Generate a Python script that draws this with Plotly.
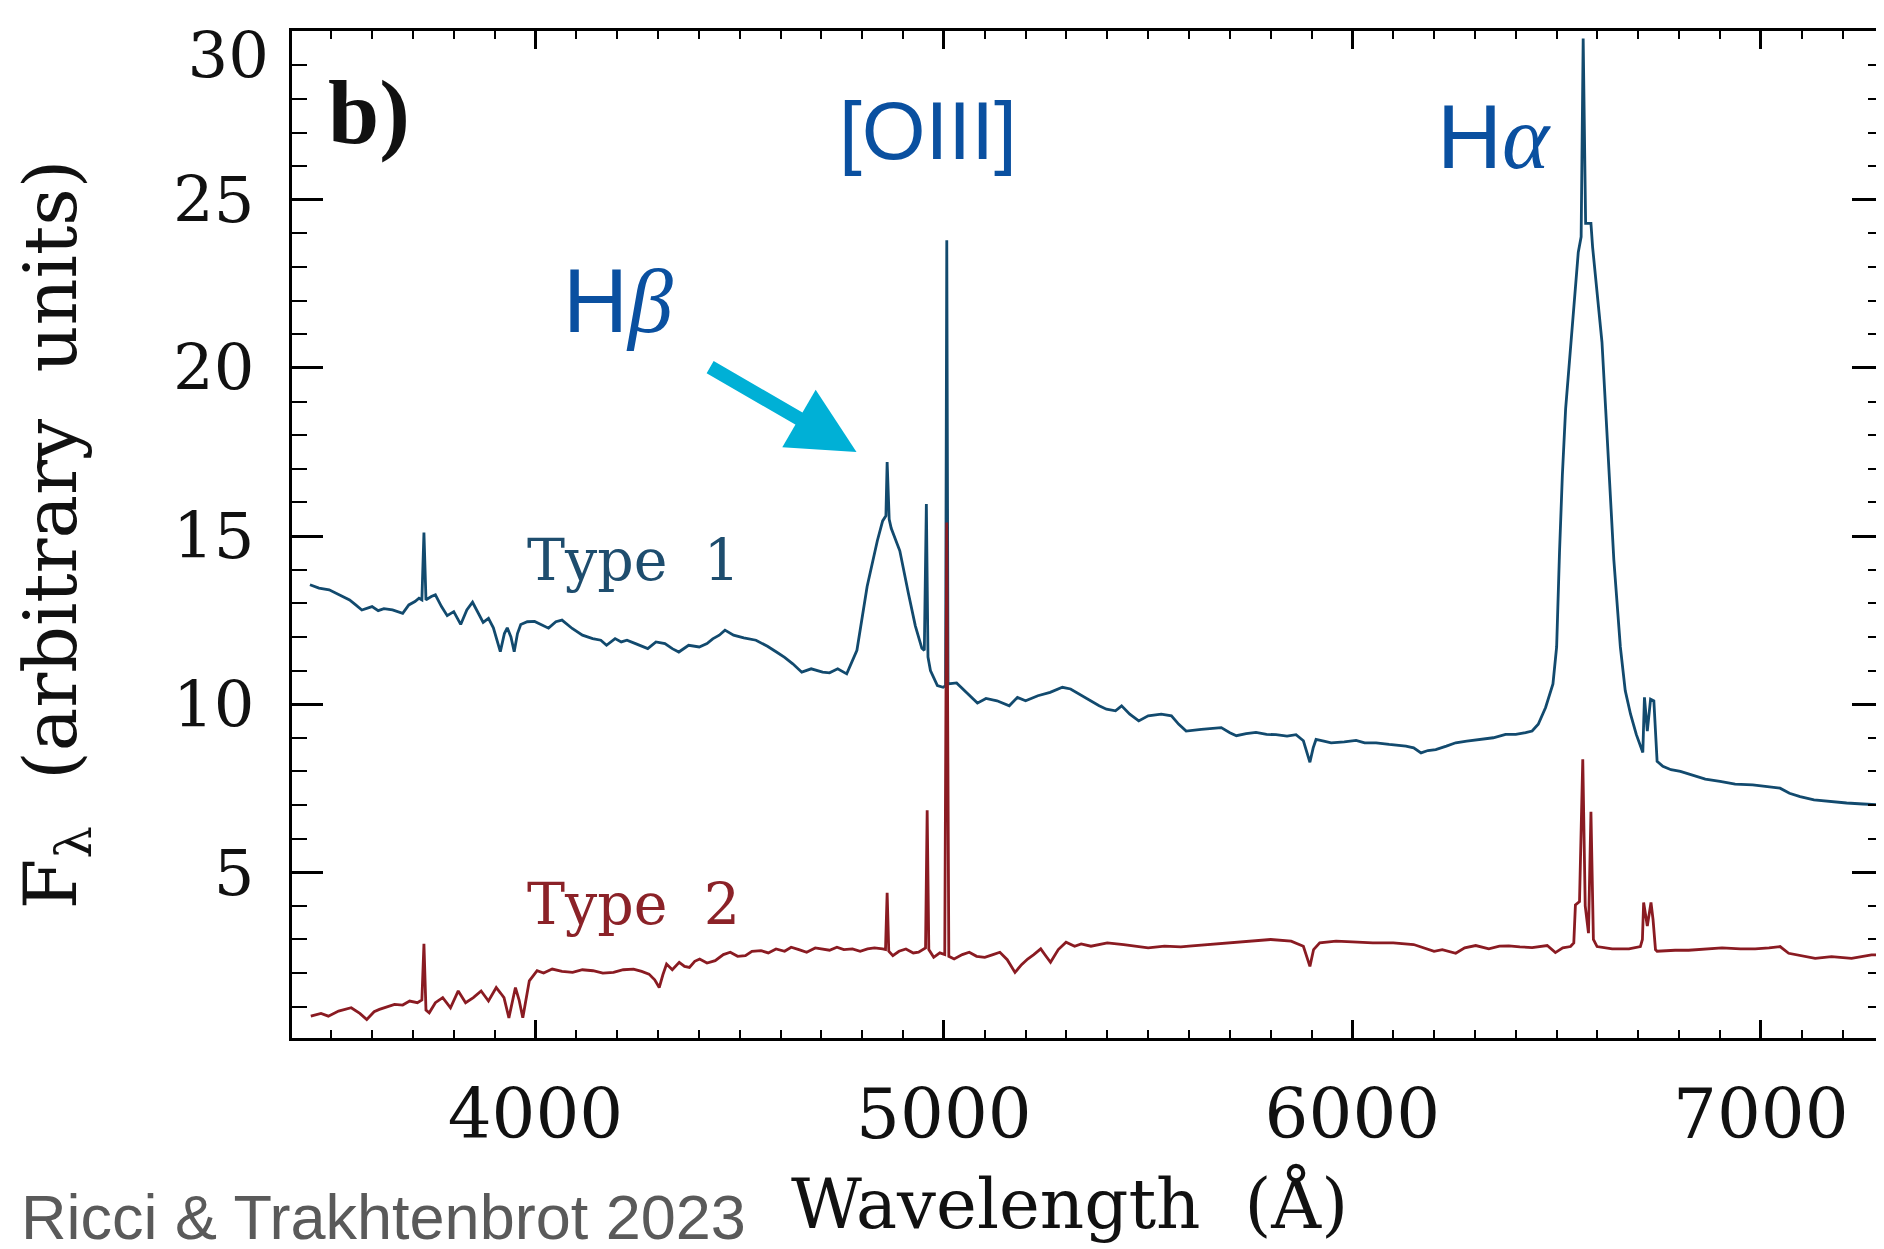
import plotly.graph_objects as go

# ---------------- data ----------------
type1_wave = [3448, 3470, 3495, 3520, 3545, 3560, 3575, 3600, 3615, 3629, 3650, 3675, 3690, 3705, 3715,
              3722, 3727, 3732, 3745, 3755, 3770, 3784, 3800, 3817, 3832, 3846, 3860, 3872, 3885, 3897,
              3914, 3924, 3931, 3940, 3948, 3956, 3964, 3980, 3998, 4015, 4032, 4050, 4065, 4090, 4115,
              4140, 4160, 4174, 4195, 4210, 4224, 4245, 4260, 4275, 4295, 4317, 4335, 4351, 4375, 4401,
              4420, 4434, 4450, 4464, 4485, 4510, 4540, 4568, 4590, 4610, 4630, 4652, 4675, 4703, 4720,
              4740, 4762, 4787, 4812, 4837, 4850, 4858, 4861, 4866, 4871, 4892, 4913, 4930, 4946, 4952,
              4957, 4961, 4967, 4984, 4998, 5004, 5007, 5010, 5031, 5056, 5082, 5103, 5130, 5160, 5180,
              5200, 5230, 5260, 5290, 5310, 5330, 5360, 5380, 5398, 5420, 5435, 5455, 5477, 5500, 5532,
              5557, 5575, 5593, 5630, 5679, 5700, 5716, 5740, 5764, 5790, 5813, 5840, 5862, 5880, 5890,
              5896, 5904, 5911, 5930, 5948, 5980, 6009, 6030, 6058, 6090, 6131, 6150, 6168, 6185, 6204,
              6230, 6253, 6280, 6314, 6345, 6375, 6400, 6424, 6440, 6455, 6473, 6491, 6500, 6507, 6514,
              6522, 6538, 6553, 6560, 6565, 6571, 6584, 6588, 6595, 6611, 6620, 6630, 6640, 6656, 6668,
              6681, 6695, 6711, 6715, 6722, 6730, 6738, 6746, 6760, 6780, 6803, 6830, 6864, 6900, 6937,
              6980, 7020, 7047, 7070, 7096, 7130, 7170, 7210, 7250, 7296]
type1_flux = [13.55, 13.45, 13.40, 13.26, 13.10, 12.95, 12.80, 12.90, 12.78, 12.84, 12.80, 12.70, 12.95, 13.05, 13.15,
              13.10, 15.10, 13.10, 13.20, 13.25, 12.90, 12.63, 12.75, 12.37, 12.80, 13.03, 12.70, 12.43, 12.55, 12.27,
              11.56, 12.10, 12.27, 12.00, 11.56, 12.10, 12.37, 12.45, 12.46, 12.35, 12.26, 12.45, 12.50, 12.25, 12.05,
              11.95, 11.90, 11.75, 11.95, 11.85, 11.90, 11.80, 11.72, 11.65, 11.85, 11.80, 11.65, 11.55, 11.75, 11.70,
              11.80, 11.94, 12.05, 12.20, 12.05, 11.97, 11.90, 11.72, 11.55, 11.39, 11.20, 10.95, 11.05, 10.95, 10.93,
              11.05, 10.90, 11.60, 13.50, 14.86, 15.45, 15.60, 17.20, 15.50, 15.23, 14.56, 13.30, 12.33, 11.66, 11.60,
              15.95, 11.40, 11.00, 10.55, 10.50, 10.55, 23.80, 10.60, 10.63, 10.33, 10.03, 10.17, 10.10, 9.95, 10.20,
              10.10, 10.25, 10.35, 10.50, 10.45, 10.30, 10.10, 9.95, 9.85, 9.80, 9.95, 9.70, 9.50, 9.65, 9.70,
              9.65, 9.40, 9.20, 9.25, 9.30, 9.15, 9.06, 9.12, 9.16, 9.10, 9.09, 9.05, 9.09, 8.91, 8.50,
              8.27, 8.70, 8.95, 8.90, 8.85, 8.88, 8.92, 8.85, 8.85, 8.80, 8.75, 8.70, 8.55, 8.62, 8.65,
              8.75, 8.85, 8.90, 8.95, 9.00, 9.10, 9.10, 9.15, 9.20, 9.40, 9.90, 10.60, 11.70, 14.50, 16.80,
              18.78, 21.26, 23.44, 23.90, 29.80, 24.30, 24.30, 23.60, 22.74, 20.77, 18.78, 16.50, 14.30, 11.70, 10.40,
              9.70, 9.10, 8.56, 10.20, 9.20, 10.15, 10.10, 8.30, 8.15, 8.05, 8.00, 7.90, 7.77, 7.70, 7.62,
              7.60, 7.55, 7.50, 7.35, 7.25, 7.15, 7.10, 7.06, 7.03, 7.00]

type2_wave = [3450, 3475, 3493, 3518, 3549, 3570, 3587, 3605, 3618, 3640, 3655, 3675, 3692, 3711, 3722,
              3727, 3732, 3740, 3755, 3773, 3792, 3811, 3829, 3848, 3867, 3885, 3904, 3915, 3923, 3935,
              3951, 3960, 3969, 3985, 4004, 4020, 4041, 4065, 4091, 4115, 4141, 4165, 4191, 4215, 4240,
              4260, 4278, 4292, 4303, 4312, 4321, 4335, 4352, 4365, 4377, 4390, 4402, 4420, 4440, 4460,
              4477, 4495, 4514, 4530, 4552, 4570, 4589, 4610, 4626, 4645, 4664, 4685, 4701, 4720, 4738,
              4755, 4776, 4795, 4813, 4830, 4850, 4857, 4861, 4865, 4875, 4890, 4907, 4925, 4938, 4950,
              4955, 4959, 4963, 4975, 4990, 5002, 5007, 5012, 5025, 5045, 5062, 5080, 5100, 5120, 5137,
              5155, 5174, 5190, 5205, 5220, 5237, 5250, 5261, 5280, 5299, 5320, 5336, 5360, 5400, 5440,
              5480, 5500, 5540, 5580, 5600, 5650, 5700, 5750, 5800, 5850, 5880, 5896, 5905, 5920, 5960,
              6000, 6050, 6100, 6150, 6200, 6220, 6253, 6275, 6302, 6334, 6360, 6383, 6410, 6440, 6477,
              6497, 6515, 6534, 6542, 6546, 6556, 6564, 6570, 6578, 6584, 6590, 6599, 6636, 6677, 6705,
              6710, 6713, 6722, 6731, 6736, 6742, 6746, 6790, 6823, 6860, 6905, 6950, 6986, 7020, 7047,
              7068, 7092, 7133, 7173, 7222, 7271, 7296]
type2_flux = [0.72, 0.80, 0.72, 0.87, 0.97, 0.80, 0.62, 0.85, 0.92, 1.00, 1.07, 1.05, 1.17, 1.12, 1.20,
              2.87, 0.90, 0.82, 1.12, 1.27, 0.97, 1.47, 1.12, 1.27, 1.47, 1.17, 1.57, 1.40, 1.27, 0.67,
              1.57, 1.20, 0.67, 1.77, 2.07, 2.00, 2.12, 2.05, 2.02, 2.10, 2.07, 2.00, 2.02, 2.10, 2.12,
              2.05, 1.97, 1.80, 1.57, 1.95, 2.27, 2.10, 2.32, 2.20, 2.17, 2.35, 2.42, 2.30, 2.37, 2.55,
              2.62, 2.50, 2.52, 2.65, 2.67, 2.60, 2.72, 2.65, 2.77, 2.70, 2.62, 2.75, 2.72, 2.68, 2.77,
              2.70, 2.72, 2.65, 2.72, 2.75, 2.72, 2.70, 4.39, 2.65, 2.52, 2.65, 2.72, 2.60, 2.62, 2.70,
              2.75, 6.84, 2.70, 2.47, 2.60, 2.55, 15.40, 2.50, 2.42, 2.55, 2.62, 2.50, 2.47, 2.55, 2.62,
              2.40, 2.02, 2.25, 2.42, 2.55, 2.72, 2.50, 2.32, 2.70, 2.92, 2.80, 2.87, 2.80, 2.90, 2.85,
              2.78, 2.75, 2.80, 2.78, 2.80, 2.85, 2.90, 2.95, 3.00, 2.95, 2.80, 2.20, 2.70, 2.90, 2.95,
              2.93, 2.90, 2.90, 2.85, 2.65, 2.70, 2.59, 2.75, 2.82, 2.72, 2.80, 2.81, 2.78, 2.76, 2.82,
              2.61, 2.75, 2.79, 2.90, 4.03, 4.13, 8.36, 4.00, 3.19, 6.80, 3.00, 2.79, 2.72, 2.72, 2.79,
              3.00, 4.10, 3.40, 4.10, 3.60, 2.70, 2.65, 2.68, 2.68, 2.72, 2.75, 2.72, 2.72, 2.75, 2.79,
              2.59, 2.54, 2.44, 2.49, 2.44, 2.54, 2.55]

x_ticks = [4000, 5000, 6000, 7000]
y_ticks = [5, 10, 15, 20, 25, 30]
y_ticktext = ["5", "10", "15", "20", "25", ""]
y_top_tick = [30]
y_top_text = ["30"]

# ---------------- styling ----------------
BLUE_LINE = "#124a6e"
RED_LINE = "#8a1b22"
LABEL_BLUE = "#0a50a0"
ARROW = "#00b0d6"
SERIF = "DejaVu Serif"
Y_RANGE = [0.07, 30.02]
# the reference prints its top "30" label slightly below the top tick; an overlay
# axis with the same scale, offset by that amount, carries only that label
Y2_RANGE = [0.79, 30.74]
TICKFONT = dict(family=SERIF, size=64, color="#111")

fig = go.Figure()
fig.add_trace(go.Scatter(x=type1_wave, y=type1_flux, mode="lines",
                         line=dict(color=BLUE_LINE, width=2.8), name="Type 1"))
fig.add_trace(go.Scatter(x=type2_wave, y=type2_flux, mode="lines",
                         line=dict(color=RED_LINE, width=2.8), name="Type 2"))
fig.add_trace(go.Scatter(x=[], y=[], yaxis="y2", showlegend=False, hoverinfo="skip"))

axis_common = dict(showline=True, linecolor="black", linewidth=2.5, mirror="ticks",
                   ticks="inside", tickcolor="black", tickwidth=2.5, showgrid=False,
                   zeroline=False)

fig.update_layout(
    xaxis=dict(range=[3404, 7299], tickvals=x_ticks, ticklen=18,
               minor=dict(dtick=100, ticklen=8, ticks="inside", tickcolor="black", tickwidth=2.2,
                          showgrid=False),
               ticklabelstandoff=14, tickfont=dict(family=SERIF, size=69, color="#111"),
               **axis_common),
    yaxis=dict(range=Y_RANGE, tickvals=y_ticks, ticktext=y_ticktext, ticklen=31,
               minor=dict(dtick=1, ticklen=15, ticks="inside", tickcolor="black",
                          tickwidth=2.2, showgrid=False),
               ticklabelstandoff=22, tickfont=TICKFONT,
               title=dict(text="F<sub>λ</sub>\u00a0\u00a0(arbitrary\u00a0\u00a0units)",
                          font=dict(family=SERIF, size=73, color="#111"), standoff=76),
               **axis_common),
    yaxis2=dict(range=Y2_RANGE, overlaying="y", anchor="x", side="left",
                tickvals=y_top_tick, ticktext=y_top_text, ticks="", showline=False,
                showgrid=False, zeroline=False, ticklabelstandoff=22, tickfont=TICKFONT),
)

annotations = [
    dict(x=3487, y=29.2, xref="x", yref="y", text="<b>b)</b>", showarrow=False,
         xanchor="left", yanchor="top", font=dict(family="Liberation Serif", size=92, color="#111")),
    dict(x=4962, y=27.05, xref="x", yref="y", text="[OIII]", showarrow=False,
         xanchor="center", yanchor="middle", font=dict(family="Liberation Sans", size=82, color=LABEL_BLUE)),
    dict(x=6346, y=26.86, xref="x", yref="y",
         text="H<span style=\"font-family:'Liberation Serif'\"><i>α</i></span>", showarrow=False,
         xanchor="center", yanchor="middle", font=dict(family="Liberation Sans", size=90, color=LABEL_BLUE)),
    dict(x=4202, y=22.0, xref="x", yref="y",
         text="H<span style=\"font-family:'Liberation Serif'\"><i>β</i></span>", showarrow=False,
         xanchor="center", yanchor="middle", font=dict(family="Liberation Sans", size=90, color=LABEL_BLUE)),
    dict(x=4786, y=17.5, ax=4424, ay=20.05, xref="x", yref="y", axref="x", ayref="y",
         text="", showarrow=True, arrowhead=2, arrowsize=0.95, arrowwidth=14, arrowcolor=ARROW),
    dict(x=3975, y=14.3, xref="x", yref="y", text="Type\u00a0\u00a01", showarrow=False,
         xanchor="left", yanchor="middle", font=dict(family=SERIF, size=57, color="#1e4d6e")),
    dict(x=3975, y=4.05, xref="x", yref="y", text="Type\u00a0\u00a02", showarrow=False,
         xanchor="left", yanchor="middle", font=dict(family=SERIF, size=57, color="#8b2228")),
    # x-axis title, placed where the reference has it (slightly left of the plot centre)
    dict(x=0.4884, y=-0.1645, xref="paper", yref="paper", text="Wavelength\u00a0\u00a0(Å)",
         showarrow=False, xanchor="center", yanchor="middle",
         font=dict(family=SERIF, size=69, color="#111")),
    dict(x=-0.1719, y=-0.178, xref="paper", yref="paper", text="Ricci & Trakhtenbrot 2023",
         showarrow=False, xanchor="left", yanchor="middle",
         font=dict(family="Liberation Sans", size=63, color="#5a5a5a")),
]

fig.update_layout(width=1884, height=1249, margin=dict(l=284, r=6, t=23, b=219),
                  plot_bgcolor="white", paper_bgcolor="white", showlegend=False,
                  annotations=annotations)

fig.write_html("out.html")
